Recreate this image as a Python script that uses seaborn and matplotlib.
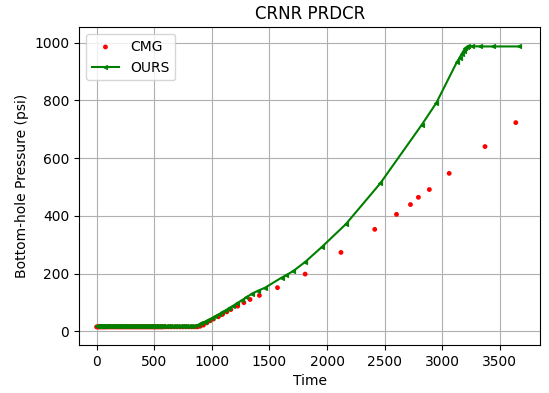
import matplotlib
matplotlib.use("Agg")
import matplotlib.pyplot as plt
import seaborn as sns
import pandas as pd

# CMG reference data (time, pressure)
cmg_time = [0, 8, 16, 24, 32, 40, 48, 56, 64, 72, 80, 90, 100, 110, 120, 130, 140, 150,
            160, 170, 180, 190, 200, 210, 220, 230, 240, 250, 260, 270, 280, 290, 300,
            310, 320, 330, 340, 350, 360, 370, 380, 390, 400, 410, 420, 430, 440, 450,
            460, 470, 480, 490, 500, 510, 520, 530, 540, 550, 560, 570, 580,
            600, 625, 650, 675, 700, 725, 750, 775, 800, 825, 850, 875,
            898, 927, 957, 985, 1014, 1057, 1092, 1130, 1165, 1225, 1278, 1332,
            1413, 1570, 1810, 2121, 2414, 2603, 2724, 2793, 2888, 3060, 3371, 3638]
cmg_pres = [15, 15, 15, 15, 15, 15, 15, 15, 15, 15, 15, 15, 15, 15, 15, 15, 15, 15,
            15, 15, 15, 15, 15, 15, 15, 15, 15, 15, 15, 15, 15, 15, 15,
            15, 15, 15, 15, 15, 15, 15, 15, 15, 15, 15, 15, 15, 15, 15,
            15, 15, 15, 15, 15, 15, 15, 15, 15, 15, 15, 15, 15,
            15, 15, 15, 15, 15, 15, 15, 15, 15, 15, 15, 15,
            17, 21, 29, 36, 42, 50, 58, 67, 75, 87, 99, 110,
            124, 151, 198, 273, 353, 405, 439, 464, 491, 547, 640, 723]

# OURS simulation data (time, pressure)
ours_time = [0, 10, 20, 30, 40, 50, 60, 70, 80, 90, 100, 115, 130, 145, 160, 175, 190,
             205, 220, 235, 250, 265, 280, 295, 310, 325, 340, 355, 370, 385, 400,
             415, 430, 445, 460, 475, 490, 505, 520, 535, 550, 565, 580, 600, 620,
             640, 660, 680, 700, 720, 740, 760, 780, 800, 820, 845,
             880, 910, 940, 970, 1000, 1030, 1060, 1090, 1120, 1150, 1180, 1220,
             1260, 1300, 1347, 1400, 1463, 1607, 1645, 1708, 1810, 1955, 2163,
             2461, 2823, 2948, 3127, 3150, 3170, 3185, 3199, 3215, 3227, 3256,
             3329, 3444, 3667]
ours_pres = [18, 18, 18, 18, 18, 18, 18, 18, 18, 18, 18, 18, 18, 18, 18, 18, 18,
             18, 18, 18, 18, 18, 18, 18, 18, 18, 18, 18, 18, 18, 18,
             18, 18, 18, 18, 18, 18, 18, 18, 18, 18, 18, 18, 18, 18,
             18, 18, 18, 18, 18, 18, 18, 18, 18, 18, 17,
             22, 28, 33, 39, 45, 51, 58, 65, 72, 80, 87, 97,
             107, 117, 130, 140, 151, 186, 194, 209, 240, 292, 371,
             512, 716, 791, 933, 948, 962, 972, 980, 986, 989, 988,
             987, 987, 987]

df_cmg = pd.DataFrame({"Time": cmg_time, "P": cmg_pres})
df_ours = pd.DataFrame({"Time": ours_time, "P": ours_pres})

fig, ax = plt.subplots(figsize=(5.49, 3.93), dpi=100)
fig.subplots_adjust(left=0.144, right=0.984, top=0.931, bottom=0.122)

sns.scatterplot(data=df_cmg, x="Time", y="P", ax=ax, color="red", marker="o",
                s=12, edgecolor="none", label="CMG")
sns.lineplot(data=df_ours, x="Time", y="P", ax=ax, color="green", marker="<",
             markersize=3, markeredgecolor="green", linewidth=1.5, label="OURS",
             sort=False, estimator=None)

ax.set_xlim(-152, 3850)
ax.set_ylim(-48, 1054)
ax.grid(True, color="#b0b0b0", linewidth=0.8)
ax.set_axisbelow(True)
ax.set_title("CRNR PRDCR")
ax.set_xlabel("Time")
ax.set_ylabel("Bottom-hole Pressure (psi)")
ax.legend(loc="upper left")

fig.savefig("out.png", dpi=100)
